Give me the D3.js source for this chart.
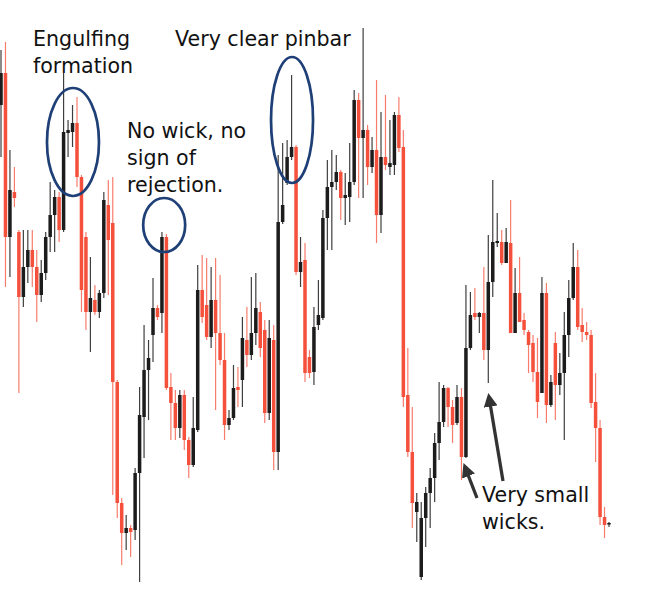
<!DOCTYPE html>
<html>
<head>
<meta charset="utf-8">
<script src="https://cdn.jsdelivr.net/npm/d3@7"></script>
<style>
body { margin: 0; background: #fff; }
</style>
</head>
<body>
<div id="chart"></div>
<script>
// prices in points, one entry per candle (left to right)
var openP = [495,527,363,408,368,303,333,350,333,305,
  327,363,385,403,370,467,468,477,423,363,
  288,300,288,307,395,377,218,97,67,72,
  70,127,183,230,265,292,287,363,213,197,
  172,205,160,135,170,310,295,263,300,267,
  240,175,182,213,220,260,245,267,288,270,
  187,260,148,378,417,443,453,328,340,243,
  228,275,282,382,413,418,428,402,403,418,
  500,462,470,433,450,385,443,433,435,485,
  453,205,148,88,23,82,107,122,157,178,
  212,193,177,203,143,252,287,283,287,250,
  318,357,358,337,357,267,307,280,268,257,
  228,207,307,195,257,215,227,265,302,333,
  275,268,265,198,172,83,76];
var closeP = [527,363,410,402,303,333,350,333,305,327,
  363,385,403,370,468,470,477,423,310,288,
  302,288,307,400,360,218,97,67,72,68,
  127,185,230,242,292,283,363,212,197,172,
  205,160,135,172,310,283,263,300,267,240,
  175,182,212,210,262,245,267,292,252,187,
  262,148,378,395,443,453,328,338,227,227,
  273,285,382,413,418,428,402,405,418,500,
  462,470,433,450,385,443,435,437,485,452,
  203,148,97,98,82,107,122,157,178,212,
  193,175,203,143,252,285,283,287,250,318,
  358,359,337,358,267,307,278,270,255,228,
  198,307,195,218,215,227,265,302,333,273,
  268,265,197,172,83,75,77];
var highP = [550,558,450,433,370,370,370,370,350,340,
  368,418,410,408,527,480,495,503,425,368,
  343,315,310,408,420,423,220,102,85,75,
  132,213,275,260,322,295,368,366,227,210,
  210,210,163,203,335,345,342,333,342,325,
  267,190,235,233,283,293,323,327,298,280,
  280,275,445,457,460,525,455,363,357,250,
  293,320,390,440,450,445,430,427,457,510,
  507,572,475,463,520,488,505,480,488,503,
  470,252,193,107,98,113,132,167,218,215,
  213,200,215,212,315,308,312,288,333,365,
  420,387,370,372,400,332,343,287,270,265,
  262,323,317,225,268,247,288,320,357,350,
  292,278,270,227,180,93,78];
var lowP = [443,313,323,393,207,293,317,313,278,298,
  320,348,348,358,368,443,453,413,288,270,
  248,285,282,302,305,105,82,35,50,43,
  60,18,142,180,238,280,267,210,160,160,
  162,150,122,133,168,277,260,252,190,235,
  160,170,180,193,193,233,240,255,243,177,
  180,130,130,376,415,440,325,313,218,222,
  215,270,280,350,350,410,380,375,378,415,
  402,402,415,427,357,367,430,425,425,448,
  193,143,72,58,20,53,72,98,140,173,
  173,157,175,120,142,250,280,267,240,217,
  303,353,335,337,267,267,278,265,227,218,
  182,207,177,193,180,205,160,243,300,270,
  258,260,192,138,75,62,73];

// annotation texts
var labelLines = [
  ["Engulfing", "formation"],
  ["Very clear pinbar"],
  ["No wick, no", "sign of", "rejection."],
  ["Very small", "wicks."]
];
// circled candles: candle index and price at centre
var circleIdx = [16.1, 36.5, 65.1];
var circlePrice = [458, 375, 480];

var width = 650, height = 593;
var upColor = "#1c1c1c", downColor = "#f5503b";

var svg = d3.select("#chart").append("svg")
  .attr("width", width)
  .attr("height", height);

var x = d3.scaleLinear().domain([0, openP.length - 1]).range([1, 609]);
var y = d3.scaleLinear().domain([0, 600]).range([600, 0]);

var candles = d3.range(openP.length).map(function(i) {
  return {i: i, o: openP[i], c: closeP[i], h: highP[i], l: lowP[i]};
});
function col(d) { return d.c > d.o ? upColor : downColor; }

var g = svg.append("g");

g.selectAll("line.wick").data(candles).enter().append("line")
  .attr("class", "wick")
  .attr("x1", function(d) { return x(d.i); })
  .attr("x2", function(d) { return x(d.i); })
  .attr("y1", function(d) { return y(d.h); })
  .attr("y2", function(d) { return y(d.l); })
  .attr("stroke", col)
  .attr("stroke-opacity", function(d) { return d.c > d.o ? 0.85 : 0.75; })
  .attr("stroke-width", 1.2);

g.selectAll("rect.body").data(candles).enter().append("rect")
  .attr("class", "body")
  .attr("x", function(d) { return x(d.i) - 1.75; })
  .attr("width", 3.5)
  .attr("y", function(d) { return y(Math.max(d.o, d.c)); })
  .attr("height", function(d) { return Math.max(1.5, Math.abs(y(d.o) - y(d.c))); })
  .attr("fill", col);

// ellipses round the candles of interest
var ellipseR = [[26, 54], [21, 27], [21, 63]];
svg.selectAll("ellipse").data(circleIdx).enter().append("ellipse")
  .attr("cx", function(d) { return x(d); })
  .attr("cy", function(d, i) { return y(circlePrice[i]); })
  .attr("rx", function(d, i) { return ellipseR[i][0]; })
  .attr("ry", function(d, i) { return ellipseR[i][1]; })
  .attr("fill", "none")
  .attr("stroke", "#1f3f77")
  .attr("stroke-width", 2.7);

// text labels
var labelPos = [[33, 46], [175, 46], [127, 138], [482, 502]];
labelLines.forEach(function(lines, k) {
  var t = svg.append("text")
    .attr("x", labelPos[k][0])
    .attr("y", labelPos[k][1])
    .attr("font-family", "DejaVu Sans, Verdana, sans-serif")
    .attr("font-size", 20.6)
    .attr("fill", "#111");
  lines.forEach(function(s, j) {
    t.append("tspan").attr("x", labelPos[k][0]).attr("dy", j == 0 ? 0 : 26.8).text(s);
  });
});

// arrows for the small wicks
svg.append("defs").append("marker")
  .attr("id", "head")
  .attr("viewBox", "0 0 10 10")
  .attr("refX", 7).attr("refY", 5)
  .attr("markerWidth", 4.2).attr("markerHeight", 4.2)
  .attr("orient", "auto")
  .append("path").attr("d", "M0,0 L10,5 L0,10 Z").attr("fill", "#333");

var arrows = [[477, 498, 465, 467], [503, 481, 489, 397]];
svg.selectAll("line.arrow").data(arrows).enter().append("line")
  .attr("class", "arrow")
  .attr("x1", function(d) { return d[0]; })
  .attr("y1", function(d) { return d[1]; })
  .attr("x2", function(d) { return d[2]; })
  .attr("y2", function(d) { return d[3]; })
  .attr("stroke", "#333")
  .attr("stroke-width", 3.3)
  .attr("marker-end", "url(#head)");
</script>
</body>
</html>
